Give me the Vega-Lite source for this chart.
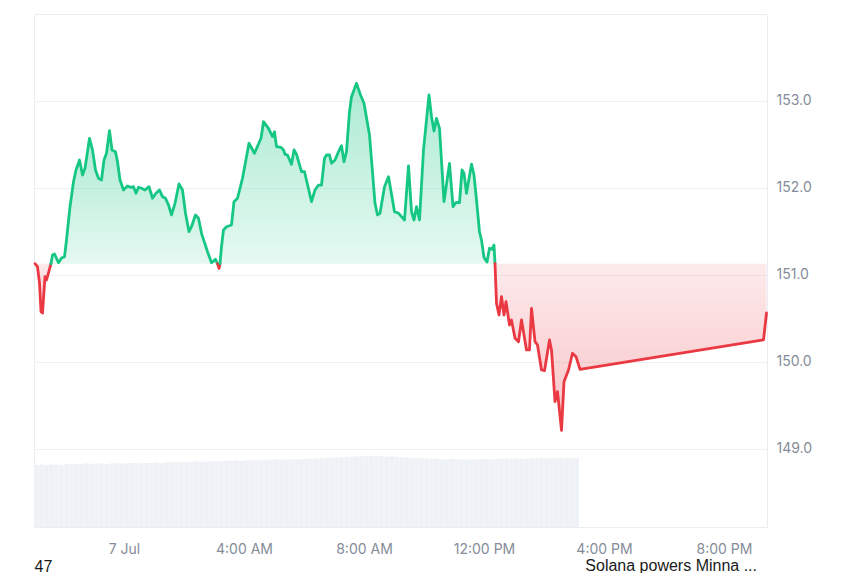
{
  "$schema": "https://vega.github.io/schema/vega-lite/v6.json",
  "width": 733,
  "height": 513,
  "autosize": {"type": "none"},
  "padding": {"left": 34, "top": 14, "right": 93, "bottom": 46},
  "background": "white",
  "config": {
    "view": {"stroke": "#e9ecf0", "strokeWidth": 1},
    "font": "Inter"
  },
  "title": {
    "text": "Solana powers Minna ...",
    "orient": "bottom",
    "anchor": "end",
    "frame": "group",
    "offset": -16,
    "dx": -10,
    "font": "Liberation Sans",
    "fontSize": 16,
    "fontWeight": "normal",
    "color": "#1a1a1a"
  },
  "datasets": {
    "vol": [
      {"t": "2025-07-06T21:05", "v": 12.1}, {"t": "2025-07-06T21:15", "v": 12.2}, {"t": "2025-07-06T21:25", "v": 12.1}, {"t": "2025-07-06T21:35", "v": 12.2},
      {"t": "2025-07-06T21:45", "v": 12.2}, {"t": "2025-07-06T21:55", "v": 12.1}, {"t": "2025-07-06T22:05", "v": 12.3}, {"t": "2025-07-06T22:15", "v": 12.2},
      {"t": "2025-07-06T22:25", "v": 12.3}, {"t": "2025-07-06T22:35", "v": 12.3}, {"t": "2025-07-06T22:45", "v": 12.4}, {"t": "2025-07-06T22:55", "v": 12.3},
      {"t": "2025-07-06T23:05", "v": 12.4}, {"t": "2025-07-06T23:15", "v": 12.4}, {"t": "2025-07-06T23:25", "v": 12.3}, {"t": "2025-07-06T23:35", "v": 12.4},
      {"t": "2025-07-06T23:45", "v": 12.5}, {"t": "2025-07-06T23:55", "v": 12.4}, {"t": "2025-07-07T00:05", "v": 12.4}, {"t": "2025-07-07T00:15", "v": 12.5},
      {"t": "2025-07-07T00:25", "v": 12.5}, {"t": "2025-07-07T00:35", "v": 12.4}, {"t": "2025-07-07T00:45", "v": 12.5}, {"t": "2025-07-07T00:55", "v": 12.5},
      {"t": "2025-07-07T01:05", "v": 12.6}, {"t": "2025-07-07T01:15", "v": 12.5}, {"t": "2025-07-07T01:25", "v": 12.6}, {"t": "2025-07-07T01:35", "v": 12.6},
      {"t": "2025-07-07T01:45", "v": 12.7}, {"t": "2025-07-07T01:55", "v": 12.6}, {"t": "2025-07-07T02:05", "v": 12.7}, {"t": "2025-07-07T02:15", "v": 12.7},
      {"t": "2025-07-07T02:25", "v": 12.8}, {"t": "2025-07-07T02:35", "v": 12.7}, {"t": "2025-07-07T02:45", "v": 12.8}, {"t": "2025-07-07T02:55", "v": 12.8},
      {"t": "2025-07-07T03:05", "v": 12.9}, {"t": "2025-07-07T03:15", "v": 12.8}, {"t": "2025-07-07T03:25", "v": 12.9}, {"t": "2025-07-07T03:35", "v": 12.9},
      {"t": "2025-07-07T03:45", "v": 13.0}, {"t": "2025-07-07T03:55", "v": 12.9}, {"t": "2025-07-07T04:05", "v": 13.0}, {"t": "2025-07-07T04:15", "v": 13.0},
      {"t": "2025-07-07T04:25", "v": 13.1}, {"t": "2025-07-07T04:35", "v": 13.0}, {"t": "2025-07-07T04:45", "v": 13.1}, {"t": "2025-07-07T04:55", "v": 13.1},
      {"t": "2025-07-07T05:05", "v": 13.2}, {"t": "2025-07-07T05:15", "v": 13.1}, {"t": "2025-07-07T05:25", "v": 13.2}, {"t": "2025-07-07T05:35", "v": 13.2},
      {"t": "2025-07-07T05:45", "v": 13.3}, {"t": "2025-07-07T05:55", "v": 13.2}, {"t": "2025-07-07T06:05", "v": 13.3}, {"t": "2025-07-07T06:15", "v": 13.3},
      {"t": "2025-07-07T06:25", "v": 13.4}, {"t": "2025-07-07T06:35", "v": 13.4}, {"t": "2025-07-07T06:45", "v": 13.5}, {"t": "2025-07-07T06:55", "v": 13.5},
      {"t": "2025-07-07T07:05", "v": 13.6}, {"t": "2025-07-07T07:15", "v": 13.6}, {"t": "2025-07-07T07:25", "v": 13.7}, {"t": "2025-07-07T07:35", "v": 13.7},
      {"t": "2025-07-07T07:45", "v": 13.8}, {"t": "2025-07-07T07:55", "v": 13.8}, {"t": "2025-07-07T08:05", "v": 13.8}, {"t": "2025-07-07T08:15", "v": 13.9},
      {"t": "2025-07-07T08:25", "v": 13.8}, {"t": "2025-07-07T08:35", "v": 13.8}, {"t": "2025-07-07T08:45", "v": 13.7}, {"t": "2025-07-07T08:55", "v": 13.8},
      {"t": "2025-07-07T09:05", "v": 13.7}, {"t": "2025-07-07T09:15", "v": 13.6}, {"t": "2025-07-07T09:25", "v": 13.6}, {"t": "2025-07-07T09:35", "v": 13.5},
      {"t": "2025-07-07T09:45", "v": 13.5}, {"t": "2025-07-07T09:55", "v": 13.4}, {"t": "2025-07-07T10:05", "v": 13.4}, {"t": "2025-07-07T10:15", "v": 13.3},
      {"t": "2025-07-07T10:25", "v": 13.3}, {"t": "2025-07-07T10:35", "v": 13.2}, {"t": "2025-07-07T10:45", "v": 13.2}, {"t": "2025-07-07T10:55", "v": 13.3},
      {"t": "2025-07-07T11:05", "v": 13.2}, {"t": "2025-07-07T11:15", "v": 13.2}, {"t": "2025-07-07T11:25", "v": 13.1}, {"t": "2025-07-07T11:35", "v": 13.2},
      {"t": "2025-07-07T11:45", "v": 13.2}, {"t": "2025-07-07T11:55", "v": 13.3}, {"t": "2025-07-07T12:05", "v": 13.2}, {"t": "2025-07-07T12:15", "v": 13.2},
      {"t": "2025-07-07T12:25", "v": 13.3}, {"t": "2025-07-07T12:35", "v": 13.3}, {"t": "2025-07-07T12:45", "v": 13.4}, {"t": "2025-07-07T12:55", "v": 13.3},
      {"t": "2025-07-07T13:05", "v": 13.4}, {"t": "2025-07-07T13:15", "v": 13.4}, {"t": "2025-07-07T13:25", "v": 13.3}, {"t": "2025-07-07T13:35", "v": 13.4},
      {"t": "2025-07-07T13:45", "v": 13.4}, {"t": "2025-07-07T13:55", "v": 13.5}, {"t": "2025-07-07T14:05", "v": 13.4}, {"t": "2025-07-07T14:15", "v": 13.4},
      {"t": "2025-07-07T14:25", "v": 13.4}, {"t": "2025-07-07T14:35", "v": 13.5}, {"t": "2025-07-07T14:45", "v": 13.4}, {"t": "2025-07-07T14:55", "v": 13.4},
      {"t": "2025-07-07T15:05", "v": 13.5}
    ],
    "price": [
      {"t": "2025-07-06T21:02", "p": 151.13, "s": 1, "d": "down"},
      {"t": "2025-07-06T21:07", "p": 151.095, "s": 1, "d": "down"},
      {"t": "2025-07-06T21:11", "p": 150.908, "s": 1, "d": "down"},
      {"t": "2025-07-06T21:14", "p": 150.578, "s": 1, "d": "down"},
      {"t": "2025-07-06T21:17", "p": 150.563, "s": 1, "d": "down"},
      {"t": "2025-07-06T21:22", "p": 150.98, "s": 1, "d": "down"},
      {"t": "2025-07-06T21:25", "p": 150.943, "s": 1, "d": "down"},
      {"t": "2025-07-06T21:29", "p": 151.023, "s": 1, "d": "down"},
      {"t": "2025-07-06T21:34", "p": 151.13, "s": 1, "d": "down"},
      {"t": "2025-07-06T21:34", "p": 151.13, "s": 2, "d": "up"},
      {"t": "2025-07-06T21:37", "p": 151.23, "s": 2, "d": "up"},
      {"t": "2025-07-06T21:41", "p": 151.241, "s": 2, "d": "up"},
      {"t": "2025-07-06T21:49", "p": 151.141, "s": 2, "d": "up"},
      {"t": "2025-07-06T21:55", "p": 151.195, "s": 2, "d": "up"},
      {"t": "2025-07-06T22:01", "p": 151.21, "s": 2, "d": "up"},
      {"t": "2025-07-06T22:05", "p": 151.402, "s": 2, "d": "up"},
      {"t": "2025-07-06T22:12", "p": 151.785, "s": 2, "d": "up"},
      {"t": "2025-07-06T22:19", "p": 152.072, "s": 2, "d": "up"},
      {"t": "2025-07-06T22:24", "p": 152.207, "s": 2, "d": "up"},
      {"t": "2025-07-06T22:31", "p": 152.322, "s": 2, "d": "up"},
      {"t": "2025-07-06T22:37", "p": 152.149, "s": 2, "d": "up"},
      {"t": "2025-07-06T22:42", "p": 152.226, "s": 2, "d": "up"},
      {"t": "2025-07-06T22:51", "p": 152.571, "s": 2, "d": "up"},
      {"t": "2025-07-06T22:57", "p": 152.437, "s": 2, "d": "up"},
      {"t": "2025-07-06T23:03", "p": 152.207, "s": 2, "d": "up"},
      {"t": "2025-07-06T23:09", "p": 152.111, "s": 2, "d": "up"},
      {"t": "2025-07-06T23:15", "p": 152.092, "s": 2, "d": "up"},
      {"t": "2025-07-06T23:20", "p": 152.322, "s": 2, "d": "up"},
      {"t": "2025-07-06T23:25", "p": 152.399, "s": 2, "d": "up"},
      {"t": "2025-07-06T23:31", "p": 152.659, "s": 2, "d": "up"},
      {"t": "2025-07-06T23:36", "p": 152.437, "s": 2, "d": "up"},
      {"t": "2025-07-06T23:43", "p": 152.417, "s": 2, "d": "up"},
      {"t": "2025-07-06T23:47", "p": 152.302, "s": 2, "d": "up"},
      {"t": "2025-07-06T23:52", "p": 152.092, "s": 2, "d": "up"},
      {"t": "2025-07-06T23:59", "p": 151.977, "s": 2, "d": "up"},
      {"t": "2025-07-07T00:07", "p": 152.023, "s": 2, "d": "up"},
      {"t": "2025-07-07T00:13", "p": 152.008, "s": 2, "d": "up"},
      {"t": "2025-07-07T00:19", "p": 152.015, "s": 2, "d": "up"},
      {"t": "2025-07-07T00:24", "p": 151.939, "s": 2, "d": "up"},
      {"t": "2025-07-07T00:29", "p": 152.008, "s": 2, "d": "up"},
      {"t": "2025-07-07T00:35", "p": 151.997, "s": 2, "d": "up"},
      {"t": "2025-07-07T00:42", "p": 151.977, "s": 2, "d": "up"},
      {"t": "2025-07-07T00:50", "p": 152.015, "s": 2, "d": "up"},
      {"t": "2025-07-07T00:57", "p": 151.882, "s": 2, "d": "up"},
      {"t": "2025-07-07T01:04", "p": 151.939, "s": 2, "d": "up"},
      {"t": "2025-07-07T01:11", "p": 151.977, "s": 2, "d": "up"},
      {"t": "2025-07-07T01:17", "p": 151.9, "s": 2, "d": "up"},
      {"t": "2025-07-07T01:23", "p": 151.882, "s": 2, "d": "up"},
      {"t": "2025-07-07T01:29", "p": 151.805, "s": 2, "d": "up"},
      {"t": "2025-07-07T01:35", "p": 151.69, "s": 2, "d": "up"},
      {"t": "2025-07-07T01:42", "p": 151.824, "s": 2, "d": "up"},
      {"t": "2025-07-07T01:50", "p": 152.046, "s": 2, "d": "up"},
      {"t": "2025-07-07T01:57", "p": 151.977, "s": 2, "d": "up"},
      {"t": "2025-07-07T02:03", "p": 151.709, "s": 2, "d": "up"},
      {"t": "2025-07-07T02:10", "p": 151.498, "s": 2, "d": "up"},
      {"t": "2025-07-07T02:15", "p": 151.555, "s": 2, "d": "up"},
      {"t": "2025-07-07T02:23", "p": 151.69, "s": 2, "d": "up"},
      {"t": "2025-07-07T02:29", "p": 151.652, "s": 2, "d": "up"},
      {"t": "2025-07-07T02:35", "p": 151.479, "s": 2, "d": "up"},
      {"t": "2025-07-07T02:47", "p": 151.268, "s": 2, "d": "up"},
      {"t": "2025-07-07T02:55", "p": 151.14, "s": 2, "d": "up"},
      {"t": "2025-07-07T03:03", "p": 151.18, "s": 2, "d": "up"},
      {"t": "2025-07-07T03:07", "p": 151.13, "s": 2, "d": "up"},
      {"t": "2025-07-07T03:07", "p": 151.13, "s": 3, "d": "down"},
      {"t": "2025-07-07T03:10", "p": 151.075, "s": 3, "d": "down"},
      {"t": "2025-07-07T03:12", "p": 151.13, "s": 3, "d": "down"},
      {"t": "2025-07-07T03:12", "p": 151.13, "s": 4, "d": "up"},
      {"t": "2025-07-07T03:15", "p": 151.325, "s": 4, "d": "up"},
      {"t": "2025-07-07T03:19", "p": 151.517, "s": 4, "d": "up"},
      {"t": "2025-07-07T03:25", "p": 151.555, "s": 4, "d": "up"},
      {"t": "2025-07-07T03:35", "p": 151.575, "s": 4, "d": "up"},
      {"t": "2025-07-07T03:40", "p": 151.843, "s": 4, "d": "up"},
      {"t": "2025-07-07T03:47", "p": 151.882, "s": 4, "d": "up"},
      {"t": "2025-07-07T03:57", "p": 152.111, "s": 4, "d": "up"},
      {"t": "2025-07-07T04:10", "p": 152.514, "s": 4, "d": "up"},
      {"t": "2025-07-07T04:21", "p": 152.399, "s": 4, "d": "up"},
      {"t": "2025-07-07T04:34", "p": 152.571, "s": 4, "d": "up"},
      {"t": "2025-07-07T04:39", "p": 152.762, "s": 4, "d": "up"},
      {"t": "2025-07-07T04:49", "p": 152.686, "s": 4, "d": "up"},
      {"t": "2025-07-07T04:57", "p": 152.59, "s": 4, "d": "up"},
      {"t": "2025-07-07T05:01", "p": 152.647, "s": 4, "d": "up"},
      {"t": "2025-07-07T05:05", "p": 152.475, "s": 4, "d": "up"},
      {"t": "2025-07-07T05:14", "p": 152.468, "s": 4, "d": "up"},
      {"t": "2025-07-07T05:19", "p": 152.437, "s": 4, "d": "up"},
      {"t": "2025-07-07T05:22", "p": 152.387, "s": 4, "d": "up"},
      {"t": "2025-07-07T05:27", "p": 152.379, "s": 4, "d": "up"},
      {"t": "2025-07-07T05:35", "p": 152.272, "s": 4, "d": "up"},
      {"t": "2025-07-07T05:40", "p": 152.437, "s": 4, "d": "up"},
      {"t": "2025-07-07T05:45", "p": 152.387, "s": 4, "d": "up"},
      {"t": "2025-07-07T05:55", "p": 152.187, "s": 4, "d": "up"},
      {"t": "2025-07-07T06:01", "p": 152.187, "s": 4, "d": "up"},
      {"t": "2025-07-07T06:15", "p": 151.843, "s": 4, "d": "up"},
      {"t": "2025-07-07T06:22", "p": 151.977, "s": 4, "d": "up"},
      {"t": "2025-07-07T06:29", "p": 152.034, "s": 4, "d": "up"},
      {"t": "2025-07-07T06:35", "p": 152.034, "s": 4, "d": "up"},
      {"t": "2025-07-07T06:41", "p": 152.341, "s": 4, "d": "up"},
      {"t": "2025-07-07T06:45", "p": 152.379, "s": 4, "d": "up"},
      {"t": "2025-07-07T06:51", "p": 152.379, "s": 4, "d": "up"},
      {"t": "2025-07-07T06:55", "p": 152.284, "s": 4, "d": "up"},
      {"t": "2025-07-07T07:02", "p": 152.322, "s": 4, "d": "up"},
      {"t": "2025-07-07T07:09", "p": 152.417, "s": 4, "d": "up"},
      {"t": "2025-07-07T07:15", "p": 152.486, "s": 4, "d": "up"},
      {"t": "2025-07-07T07:20", "p": 152.302, "s": 4, "d": "up"},
      {"t": "2025-07-07T07:25", "p": 152.417, "s": 4, "d": "up"},
      {"t": "2025-07-07T07:31", "p": 152.877, "s": 4, "d": "up"},
      {"t": "2025-07-07T07:35", "p": 153.049, "s": 4, "d": "up"},
      {"t": "2025-07-07T07:45", "p": 153.203, "s": 4, "d": "up"},
      {"t": "2025-07-07T07:53", "p": 153.069, "s": 4, "d": "up"},
      {"t": "2025-07-07T08:00", "p": 152.974, "s": 4, "d": "up"},
      {"t": "2025-07-07T08:11", "p": 152.609, "s": 4, "d": "up"},
      {"t": "2025-07-07T08:22", "p": 151.824, "s": 4, "d": "up"},
      {"t": "2025-07-07T08:27", "p": 151.69, "s": 4, "d": "up"},
      {"t": "2025-07-07T08:32", "p": 151.709, "s": 4, "d": "up"},
      {"t": "2025-07-07T08:41", "p": 152.015, "s": 4, "d": "up"},
      {"t": "2025-07-07T08:49", "p": 152.13, "s": 4, "d": "up"},
      {"t": "2025-07-07T08:53", "p": 151.997, "s": 4, "d": "up"},
      {"t": "2025-07-07T09:01", "p": 151.728, "s": 4, "d": "up"},
      {"t": "2025-07-07T09:09", "p": 151.709, "s": 4, "d": "up"},
      {"t": "2025-07-07T09:15", "p": 151.67, "s": 4, "d": "up"},
      {"t": "2025-07-07T09:21", "p": 151.632, "s": 4, "d": "up"},
      {"t": "2025-07-07T09:29", "p": 152.253, "s": 4, "d": "up"},
      {"t": "2025-07-07T09:35", "p": 151.728, "s": 4, "d": "up"},
      {"t": "2025-07-07T09:40", "p": 151.632, "s": 4, "d": "up"},
      {"t": "2025-07-07T09:45", "p": 151.785, "s": 4, "d": "up"},
      {"t": "2025-07-07T09:51", "p": 151.632, "s": 4, "d": "up"},
      {"t": "2025-07-07T09:59", "p": 152.437, "s": 4, "d": "up"},
      {"t": "2025-07-07T10:10", "p": 153.069, "s": 4, "d": "up"},
      {"t": "2025-07-07T10:15", "p": 152.82, "s": 4, "d": "up"},
      {"t": "2025-07-07T10:20", "p": 152.655, "s": 4, "d": "up"},
      {"t": "2025-07-07T10:25", "p": 152.799, "s": 4, "d": "up"},
      {"t": "2025-07-07T10:31", "p": 152.686, "s": 4, "d": "up"},
      {"t": "2025-07-07T10:40", "p": 151.843, "s": 4, "d": "up"},
      {"t": "2025-07-07T10:51", "p": 152.282, "s": 4, "d": "up"},
      {"t": "2025-07-07T10:58", "p": 151.785, "s": 4, "d": "up"},
      {"t": "2025-07-07T11:04", "p": 151.833, "s": 4, "d": "up"},
      {"t": "2025-07-07T11:11", "p": 151.831, "s": 4, "d": "up"},
      {"t": "2025-07-07T11:16", "p": 152.207, "s": 4, "d": "up"},
      {"t": "2025-07-07T11:20", "p": 152.169, "s": 4, "d": "up"},
      {"t": "2025-07-07T11:25", "p": 151.939, "s": 4, "d": "up"},
      {"t": "2025-07-07T11:35", "p": 152.274, "s": 4, "d": "up"},
      {"t": "2025-07-07T11:40", "p": 152.149, "s": 4, "d": "up"},
      {"t": "2025-07-07T11:45", "p": 151.862, "s": 4, "d": "up"},
      {"t": "2025-07-07T11:51", "p": 151.494, "s": 4, "d": "up"},
      {"t": "2025-07-07T11:55", "p": 151.402, "s": 4, "d": "up"},
      {"t": "2025-07-07T12:00", "p": 151.201, "s": 4, "d": "up"},
      {"t": "2025-07-07T12:06", "p": 151.149, "s": 4, "d": "up"},
      {"t": "2025-07-07T12:11", "p": 151.307, "s": 4, "d": "up"},
      {"t": "2025-07-07T12:16", "p": 151.295, "s": 4, "d": "up"},
      {"t": "2025-07-07T12:20", "p": 151.345, "s": 4, "d": "up"},
      {"t": "2025-07-07T12:22", "p": 151.13, "s": 4, "d": "up"},
      {"t": "2025-07-07T12:22", "p": 151.13, "s": 5, "d": "down"},
      {"t": "2025-07-07T12:25", "p": 150.675, "s": 5, "d": "down"},
      {"t": "2025-07-07T12:30", "p": 150.54, "s": 5, "d": "down"},
      {"t": "2025-07-07T12:35", "p": 150.751, "s": 5, "d": "down"},
      {"t": "2025-07-07T12:40", "p": 150.54, "s": 5, "d": "down"},
      {"t": "2025-07-07T12:44", "p": 150.693, "s": 5, "d": "down"},
      {"t": "2025-07-07T12:51", "p": 150.425, "s": 5, "d": "down"},
      {"t": "2025-07-07T12:55", "p": 150.483, "s": 5, "d": "down"},
      {"t": "2025-07-07T13:02", "p": 150.272, "s": 5, "d": "down"},
      {"t": "2025-07-07T13:09", "p": 150.233, "s": 5, "d": "down"},
      {"t": "2025-07-07T13:15", "p": 150.483, "s": 5, "d": "down"},
      {"t": "2025-07-07T13:25", "p": 150.138, "s": 5, "d": "down"},
      {"t": "2025-07-07T13:31", "p": 150.138, "s": 5, "d": "down"},
      {"t": "2025-07-07T13:35", "p": 150.617, "s": 5, "d": "down"},
      {"t": "2025-07-07T13:42", "p": 150.233, "s": 5, "d": "down"},
      {"t": "2025-07-07T13:47", "p": 150.195, "s": 5, "d": "down"},
      {"t": "2025-07-07T13:55", "p": 149.908, "s": 5, "d": "down"},
      {"t": "2025-07-07T14:01", "p": 149.9, "s": 5, "d": "down"},
      {"t": "2025-07-07T14:11", "p": 150.253, "s": 5, "d": "down"},
      {"t": "2025-07-07T14:15", "p": 150.138, "s": 5, "d": "down"},
      {"t": "2025-07-07T14:22", "p": 149.544, "s": 5, "d": "down"},
      {"t": "2025-07-07T14:27", "p": 149.659, "s": 5, "d": "down"},
      {"t": "2025-07-07T14:35", "p": 149.213, "s": 5, "d": "down"},
      {"t": "2025-07-07T14:40", "p": 149.774, "s": 5, "d": "down"},
      {"t": "2025-07-07T14:49", "p": 149.908, "s": 5, "d": "down"},
      {"t": "2025-07-07T14:57", "p": 150.1, "s": 5, "d": "down"},
      {"t": "2025-07-07T15:04", "p": 150.061, "s": 5, "d": "down"},
      {"t": "2025-07-07T15:12", "p": 149.914, "s": 5, "d": "down"},
      {"t": "2025-07-07T21:19", "p": 150.253, "s": 5, "d": "down"},
      {"t": "2025-07-07T21:25", "p": 150.563, "s": 5, "d": "down"}
    ]
  },
  "layer": [
    {
      "data": {"name": "vol"},
      "mark": {"type": "bar", "color": "#eef1f5", "width": 4.6},
      "encoding": {
        "x": {
          "field": "t", "type": "temporal",
          "scale": {"domain": [{"year": 2025, "month": 7, "date": 6, "hours": 21, "minutes": 0}, {"year": 2025, "month": 7, "date": 7, "hours": 21, "minutes": 26}], "padding": 0},
          "axis": {
            "values": [
              {"year": 2025, "month": 7, "date": 7, "hours": 0},
              {"year": 2025, "month": 7, "date": 7, "hours": 4},
              {"year": 2025, "month": 7, "date": 7, "hours": 8},
              {"year": 2025, "month": 7, "date": 7, "hours": 12},
              {"year": 2025, "month": 7, "date": 7, "hours": 16},
              {"year": 2025, "month": 7, "date": 7, "hours": 20}
            ],
            "labelExpr": "hours(datum.value) == 0 ? timeFormat(datum.value, '%-d %b') : timeFormat(datum.value, '%-I:%M %p')",
            "labelFont": "Inter", "labelFontSize": 14, "labelColor": "#858c99", "labelPadding": 15,
            "ticks": false, "tickSize": 0, "domain": false, "grid": false, "labelFlush": false,
            "title": "47", "titleAnchor": "start", "titleAlign": "left", "titleFont": "Liberation Sans",
            "titleFontSize": 16, "titleFontWeight": "normal", "titleColor": "#1a1a1a", "titlePadding": 2
          }
        },
        "y": {"field": "v", "type": "quantitative", "scale": {"domain": [0, 100]}, "axis": null}
      }
    },
    {
      "data": {"name": "price"},
      "encoding": {
        "y": {
          "field": "p", "type": "quantitative",
          "scale": {"domain": [148.103, 154], "zero": false, "nice": false},
          "axis": {
            "orient": "right", "values": [149, 150, 151, 152, 153], "format": ".1f",
            "labelFont": "Inter", "labelFontSize": 14, "labelColor": "#858c99", "labelPadding": 9,
            "ticks": false, "domain": false, "grid": true, "gridColor": "#eff2f5", "title": null
          }
        }
      },
      "layer": [
        {
          "transform": [{"filter": "datum.d == 'up'"}],
          "mark": {
            "type": "area",
            "fill": {"gradient": "linear", "x1": 0, "y1": 0, "x2": 0, "y2": 1,
              "stops": [{"offset": 0, "color": "rgba(22,199,132,0.36)"}, {"offset": 1, "color": "rgba(22,199,132,0.11)"}]}
          },
          "encoding": {
            "x": {"field": "t", "type": "temporal"},
            "y2": {"datum": 151.13},
            "detail": {"field": "s"}
          }
        },
        {
          "transform": [{"filter": "datum.d == 'down'"}],
          "mark": {
            "type": "area",
            "fill": {"gradient": "linear", "x1": 0, "y1": 0, "x2": 0, "y2": 1,
              "stops": [{"offset": 0, "color": "rgba(234,57,67,0.1)"}, {"offset": 1, "color": "rgba(234,57,67,0.3)"}]}
          },
          "encoding": {
            "x": {"field": "t", "type": "temporal"},
            "y2": {"datum": 151.13},
            "detail": {"field": "s"}
          }
        },
        {
          "data": {"values": [{}]},
          "mark": {"type": "rule", "color": "#8a919e", "strokeWidth": 1, "strokeDash": [1.5, 3]},
          "encoding": {"y": {"datum": 151.13}}
        },
        {
          "mark": {"type": "line", "strokeWidth": 2.8, "strokeJoin": "round", "strokeCap": "round"},
          "encoding": {
            "x": {"field": "t", "type": "temporal"},
            "color": {"field": "d", "type": "nominal", "scale": {"domain": ["up", "down"], "range": ["#16c784", "#ea3943"]}, "legend": null},
            "detail": {"field": "s"}
          }
        }
      ]
    }
  ],
  "resolve": {"scale": {"y": "independent"}}
}
